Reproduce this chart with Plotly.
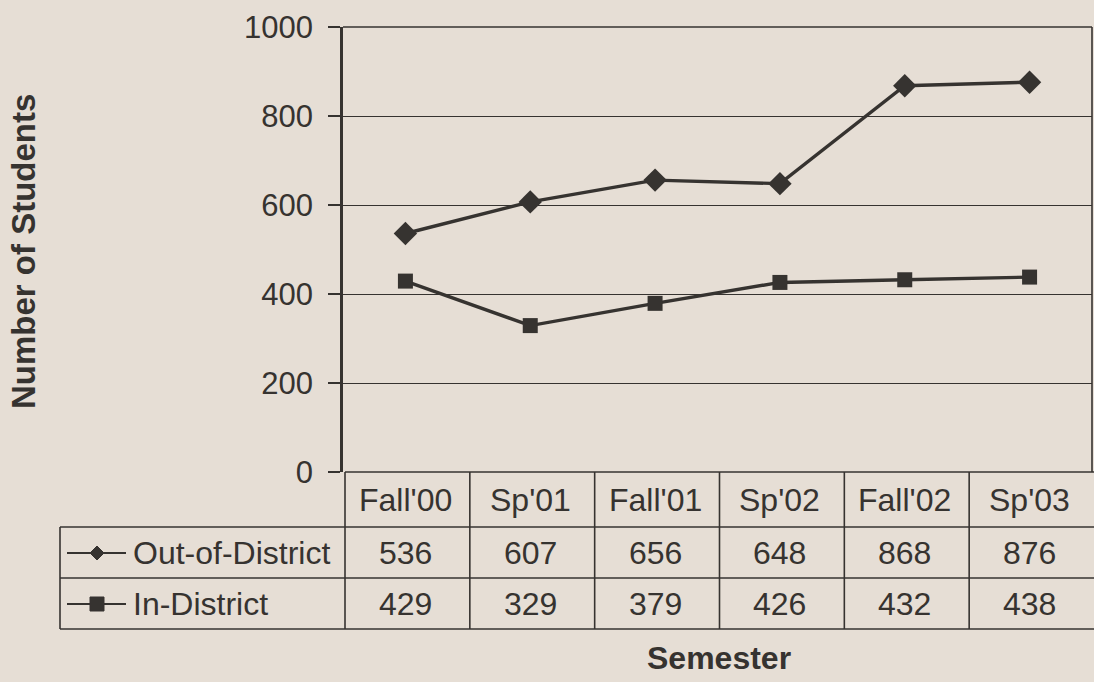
import plotly.graph_objects as go

semesters = ["Fall'00", "Sp'01", "Fall'01", "Sp'02", "Fall'02", "Sp'03"]
out_district = [536, 607, 656, 648, 868, 876]
in_district = [429, 329, 379, 426, 432, 438]
series_names = ["Out-of-District", "In-District"]
y_ticks = [0, 200, 400, 600, 800, 1000]

W, H = 1094, 682
BG = "#e6ded5"
INK = "#363330"
FONT = "Liberation Sans, Arial, sans-serif"


def px(x):
    return x / W


def py(y):
    return 1 - y / H


PLOT_L, PLOT_R, PLOT_T, PLOT_B = 343, 1092, 27, 472
ROW1, ROW2, ROW3 = 527, 578, 629
TABLE_L = 60

fig = go.Figure()

fig.add_trace(go.Scatter(
    x=semesters, y=out_district, mode="lines+markers", name=series_names[0],
    line=dict(color=INK, width=3.4),
    marker=dict(symbol="diamond", size=18, color=INK),
    showlegend=False,
))
fig.add_trace(go.Scatter(
    x=semesters, y=in_district, mode="lines+markers", name=series_names[1],
    line=dict(color=INK, width=3.4),
    marker=dict(symbol="square", size=15, color=INK),
    showlegend=False,
))

shapes = []
line_c = dict(color=INK, width=1.6)

# legend keys inside the table
key_y = [553, 604]
for yc in key_y:
    shapes.append(dict(type="line", xref="paper", yref="paper", x0=px(67), x1=px(126),
                       y0=py(yc), y1=py(yc), line=dict(color=INK, width=2)))
d = 7
yc = key_y[0]
shapes.append(dict(type="path", xref="paper", yref="paper",
                   path=f"M {px(97 - d)},{py(yc)} L {px(97)},{py(yc - d)} L {px(97 + d)},{py(yc)} L {px(97)},{py(yc + d)} Z",
                   fillcolor=INK, line=dict(color=INK, width=1)))
s = 7
yc = key_y[1]
shapes.append(dict(type="rect", xref="paper", yref="paper",
                   x0=px(97 - s), x1=px(97 + s), y0=py(yc + s), y1=py(yc - s),
                   fillcolor=INK, line=dict(color=INK, width=1)))

# plot frame (top/right)
shapes.append(dict(type="line", xref="paper", yref="paper", x0=px(PLOT_L), x1=px(PLOT_R),
                   y0=py(PLOT_T), y1=py(PLOT_T), line=line_c))
shapes.append(dict(type="line", xref="paper", yref="paper", x0=px(PLOT_R), x1=px(PLOT_R),
                   y0=py(PLOT_T), y1=py(PLOT_B), line=line_c))
# table horizontal lines
for yy, x0 in [(PLOT_B, 345), (ROW1, TABLE_L), (ROW2, TABLE_L), (ROW3, TABLE_L)]:
    shapes.append(dict(type="line", xref="paper", yref="paper", x0=px(x0), x1=1,
                       y0=py(yy), y1=py(yy), line=line_c))
# table vertical lines
shapes.append(dict(type="line", xref="paper", yref="paper", x0=px(TABLE_L), x1=px(TABLE_L),
                   y0=py(ROW1), y1=py(ROW3), line=line_c))
col_w = (PLOT_R - PLOT_L) / len(semesters)
for k in range(len(semesters)):
    xx = PLOT_L + 2 + k * col_w
    shapes.append(dict(type="line", xref="paper", yref="paper", x0=px(xx), x1=px(xx),
                       y0=py(PLOT_B), y1=py(ROW3), line=line_c))

annotations = []
tfont = dict(family=FONT, size=32, color=INK)
for i, s_ in enumerate(semesters):
    annotations.append(dict(x=s_, xref="x", y=py((PLOT_B + ROW1) / 2), yref="paper",
                            text=s_, showarrow=False, font=tfont, xanchor="center", yanchor="middle"))
    annotations.append(dict(x=s_, xref="x", y=py((ROW1 + ROW2) / 2), yref="paper",
                            text=str(out_district[i]), showarrow=False, font=tfont,
                            xanchor="center", yanchor="middle"))
    annotations.append(dict(x=s_, xref="x", y=py((ROW2 + ROW3) / 2), yref="paper",
                            text=str(in_district[i]), showarrow=False, font=tfont,
                            xanchor="center", yanchor="middle"))
for i, name in enumerate(series_names):
    annotations.append(dict(x=px(131), xref="paper", y=py(key_y[i]), yref="paper",
                            text=name, showarrow=False, font=tfont,
                            xanchor="left", yanchor="middle"))

annotations.append(dict(x=px(23), xref="paper", y=py(252), yref="paper",
                        text="<b>Number of Students</b>", textangle=-90, showarrow=False,
                        font=dict(family=FONT, size=33, color=INK),
                        xanchor="center", yanchor="middle"))
annotations.append(dict(x=px(719), xref="paper", y=py(658), yref="paper",
                        text="<b>Semester</b>", showarrow=False,
                        font=dict(family=FONT, size=32, color=INK),
                        xanchor="center", yanchor="middle"))

fig.update_layout(
    width=W, height=H,
    margin=dict(l=0, r=0, t=0, b=0, autoexpand=False),
    paper_bgcolor=BG, plot_bgcolor=BG,
    font=dict(family=FONT, color=INK),
    xaxis=dict(domain=[px(PLOT_L), px(PLOT_R)], type="category", range=[-0.5, 5.5],
               automargin=False,
               showticklabels=False, showgrid=False, zeroline=False, showline=False, ticks=""),
    yaxis=dict(domain=[py(PLOT_B), py(PLOT_T)], range=[0, 1000], tickvals=y_ticks,
               automargin=False,
               showgrid=True, gridcolor=INK, gridwidth=1.4, zeroline=False,
               showline=True, linecolor=INK, linewidth=2.5,
               ticks="outside", ticklen=12, tickcolor=INK, tickwidth=1.5,
               ticklabelstandoff=9,
               tickfont=dict(family=FONT, size=31, color=INK)),
    shapes=shapes,
    annotations=annotations,
)

fig.write_html("out.html",
               config={"displayModeBar": False},
               post_script="document.body.style.margin='0';document.body.style.padding='0';document.body.style.overflow='hidden';")
